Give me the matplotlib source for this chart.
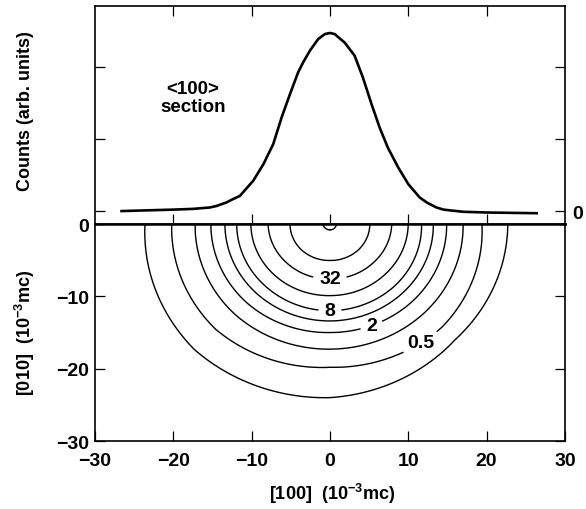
import numpy as np
import matplotlib
matplotlib.use("Agg")
from matplotlib import pyplot as plt

plt.rcParams['font.family'] = ['Liberation Sans', 'DejaVu Sans']
plt.rcParams['font.weight'] = 'bold'
plt.rcParams['mathtext.fontset'] = 'custom'
plt.rcParams['mathtext.rm'] = 'Liberation Sans:bold'
plt.rcParams['mathtext.bf'] = 'Liberation Sans:bold'
plt.rcParams['mathtext.default'] = 'bf'

# <100> section profile (top panel)
prof_x = [-26.6, -20.0, -17.5, -15.3, -14.5, -13.2, -12.3, -11.5, -9.8, -8.5, -7.24,
          -6.17, -5.1, -4.05, -3.4, -2.55, -1.5, -0.64, 0.0, 0.6, 1.9, 3.15, 4.2,
          5.3, 6.35, 7.4, 8.7, 10.0, 11.45, 12.35, 13.6, 14.5, 15.7, 17.0, 20.0, 26.4]
prof_y = [0.0, 0.02, 0.03, 0.05, 0.07, 0.12, 0.17, 0.21, 0.42, 0.65, 0.93,
          1.30, 1.625, 1.93, 2.07, 2.23, 2.39, 2.46, 2.475, 2.46, 2.34, 2.16, 1.86,
          1.49, 1.16, 0.88, 0.61, 0.375, 0.19, 0.12, 0.05, 0.02, 0.005, -0.01, -0.02, -0.03]

# contour levels and their radii (10^-3 mc) read at directions
# 0 deg = +[100], 90 deg = -[010], 180 deg = -[100]
levels = [128, 64, 32, 16, 8, 4, 2, 1, 0.5, 0.25]
angles = [0, 45, 90, 135, 180]
radii = [
    [0.8, 0.8, 0.8, 0.8, 0.9],
    [5.1, 5.1, 5.05, 5.1, 5.1],
    [7.9, 7.7, 7.6, 7.7, 7.9],
    [10.0, 9.9, 9.9, 10.0, 10.1],
    [11.7, 11.9, 12.0, 11.9, 11.9],
    [13.2, 13.3, 13.4, 13.4, 13.4],
    [14.9, 15.0, 15.0, 15.2, 15.2],
    [17.0, 17.2, 17.3, 17.4, 17.2],
    [19.4, 20.2, 19.8, 20.6, 20.2],
    [22.7, 22.6, 24.0, 24.5, 23.6],
]
label_levels = [0.5, 2, 8, 32]
label_pos = [(11.8, -16.8), (5.6, -14.8), (0, -12.0), (0, -7.6)]

# build a field whose iso-lines pass through the read radii
gx = np.linspace(-30, 30, 601)
gy = np.linspace(-30, 0, 301)
X, Y = np.meshgrid(gx, gy)
R = np.hypot(X, Y)
TH = np.degrees(np.arctan2(-Y, X))
Rl = [np.interp(TH, angles, r) for r in radii]
L = np.log2(levels)
Z = np.full(X.shape, L[0] + 0.5)
Z = np.where(R < Rl[0], L[0] + 0.5 - 0.5 * R / Rl[0], Z)
for i in range(len(levels) - 1):
    m = (R >= Rl[i]) & (R < Rl[i + 1])
    t = (R - Rl[i]) / (Rl[i + 1] - Rl[i])
    Z = np.where(m, L[i] + t * (L[i + 1] - L[i]), Z)
m = R >= Rl[-1]
Z = np.where(m, L[-1] - (R - Rl[-1]) / 5.0, Z)

fig = plt.figure(figsize=(5.86, 5.10), dpi=100)
ax_top = fig.add_axes([0.162, 0.5588, 0.802, 0.4275])
ax_bot = fig.add_axes([0.162, 0.1333, 0.802, 0.4255])

# top panel
ax_top.plot(prof_x, prof_y, color='black', linewidth=1.9, solid_joinstyle='round')
ax_top.set_xlim(-30, 30)
ax_top.set_ylim(-0.18, 2.85)
ax_top.set_xticks([-20, -10, 0, 10, 20])
ax_top.set_yticks([0, 1, 2])
ax_top.tick_params(axis='both', direction='in', length=7, width=0.9,
                   top=True, bottom=True, left=True, right=True,
                   labelbottom=False, labelleft=False, labelright=True,
                   labelsize=14, pad=5)
ax_top.set_yticklabels(['0', '', ''])
ax_top.text(-17.5, 1.71, '<100>', ha='center', va='center', fontsize=13.5)
ax_top.text(-17.5, 1.45, 'section', ha='center', va='center', fontsize=13.5)

# bottom panel
plain = sorted(np.log2([v for v in levels if v not in label_levels]))
lab = list(np.log2(label_levels))
ax_bot.contour(X, Y, Z, levels=plain, colors='black', linewidths=1.0,
               linestyles='solid')
cs = ax_bot.contour(X, Y, Z, levels=lab, colors='black', linewidths=1.0,
                    linestyles='solid')
fmt = {np.log2(v): ('0.5' if v == 0.5 else str(int(v))) for v in label_levels}
texts = ax_bot.clabel(cs, fmt=fmt, manual=label_pos, inline=True,
                      inline_spacing=6, fontsize=14)
for t in texts:
    t.set_rotation(0)
    t.set_fontweight('bold')
ax_bot.set_xlim(-30, 30)
ax_bot.set_ylim(-30, 0)
ax_bot.set_xticks([-30, -20, -10, 0, 10, 20, 30])
ax_bot.set_yticks([-30, -20, -10, 0])
ax_bot.tick_params(axis='both', direction='in', length=7, width=0.9,
                   right=True, labelsize=14)
ax_bot.tick_params(axis='x', pad=8)
ax_bot.tick_params(axis='y', pad=4)

for ax in (ax_top, ax_bot):
    for s in ax.spines.values():
        s.set_linewidth(1.2)
ax_top.spines['bottom'].set_linewidth(1.8)
ax_bot.spines['top'].set_linewidth(1.8)

fig.text(26 / 586, 1 - 111 / 510, 'Counts (arb. units)', rotation=90,
         ha='center', va='center', fontsize=13)
fig.text(25 / 586, 1 - 333 / 510, '[010]  (10$^{-3}$mc)', rotation=90,
         ha='center', va='center', fontsize=13)
fig.text(332 / 586, 1 - 494 / 510, '[100]  (10$^{-3}$mc)',
         ha='center', va='center', fontsize=13)

fig.savefig('out.png', dpi=100)
